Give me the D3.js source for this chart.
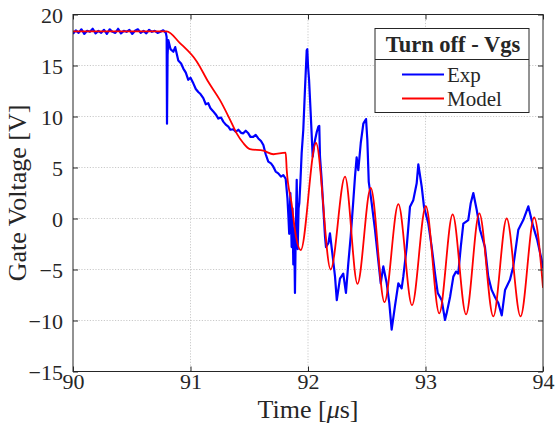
<!DOCTYPE html>
<html>
<head>
<meta charset="utf-8">
<script src="https://cdn.jsdelivr.net/npm/d3@7"></script>
<style>
  html, body { margin: 0; padding: 0; background: #fff; }
  svg { display: block; }
  text { font-family: "Liberation Serif", "Times New Roman", serif; fill: #262626; }
</style>
</head>
<body>
<svg id="chart" width="555" height="437"></svg>
<script>
// ---------------- data ----------------
const xTicks = [90, 91, 92, 93, 94];
const yTicks = [-15, -10, -5, 0, 5, 10, 15, 20];

const expTime = [
  90.000, 90.024, 90.048, 90.072, 90.096, 90.120, 90.144, 90.168, 90.192, 90.216,
  90.240, 90.264, 90.288, 90.312, 90.336, 90.360, 90.384, 90.408, 90.432, 90.456,
  90.480, 90.504, 90.528, 90.552, 90.576, 90.600, 90.624, 90.648, 90.672, 90.696,
  90.720, 90.744, 90.768, 90.790,
  90.797, 90.800, 90.805, 90.811, 90.830, 90.854, 90.870, 90.896, 90.920, 90.939,
  90.960, 90.981, 91.000, 91.024, 91.045, 91.066, 91.085, 91.109, 91.130, 91.151,
  91.170, 91.194, 91.215, 91.237, 91.260, 91.279, 91.300, 91.322, 91.340, 91.364,
  91.385, 91.407, 91.430, 91.449, 91.470, 91.492, 91.510, 91.534, 91.555, 91.577,
  91.600, 91.620, 91.640, 91.662, 91.685, 91.705, 91.725, 91.747, 91.770, 91.790,
  91.810, 91.825, 91.832, 91.840, 91.850, 91.861, 91.868, 91.875, 91.882, 91.889,
  91.895, 91.904, 91.912, 91.920, 91.926, 91.935, 91.946, 91.960, 91.974, 91.989,
  91.994, 92.000, 92.009, 92.023, 92.040, 92.050, 92.060, 92.075, 92.088, 92.096,
  92.102, 92.115, 92.125, 92.145, 92.153, 92.174, 92.187, 92.210, 92.230, 92.245,
  92.272, 92.300, 92.323, 92.343, 92.363, 92.386, 92.400, 92.414, 92.428, 92.449,
  92.471, 92.494, 92.505, 92.517, 92.542, 92.570, 92.598, 92.619, 92.641, 92.670,
  92.692, 92.712, 92.740, 92.769, 92.797, 92.811, 92.840, 92.868, 92.896, 92.925,
  92.939, 92.968, 92.987, 93.024, 93.053, 93.081, 93.104, 93.138, 93.166, 93.180,
  93.209, 93.237, 93.260, 93.279, 93.300, 93.322, 93.364, 93.385, 93.407, 93.436,
  93.464, 93.506, 93.534, 93.563, 93.591, 93.620, 93.649, 93.677, 93.719, 93.747,
  93.790, 93.832, 93.875, 93.917, 93.951, 93.989, 94.000
];
const expVgs = [
  18.1, 18.45, 18.2, 18.55, 18.1, 18.4, 18.3, 18.6, 18.15, 18.4,
  18.2, 18.5, 18.1, 18.55, 18.3, 18.2, 18.6, 18.15, 18.4, 18.3,
  18.5, 18.1, 18.4, 18.55, 18.2, 18.4, 18.15, 18.5, 18.3, 18.4,
  18.2, 18.3, 18.45, 18.2,
  17.8, 9.3, 16.0, 17.5, 16.6, 16.35, 16.8, 15.5, 15.2, 14.7,
  14.3, 13.6, 13.8, 13.25, 12.7, 12.4, 12.2, 11.8, 11.2, 11.3,
  10.8, 10.5, 10.2, 9.8, 9.9, 9.5, 9.2, 9.0, 8.7, 8.75,
  8.5, 8.7, 8.4, 8.35, 8.6, 8.35, 8.0, 8.0, 8.2, 7.85,
  7.6, 7.2, 6.3, 5.57, 5.4, 5.08, 4.6, 4.43, 4.1, 4.26,
  3.9, 2.0, 0.5, -1.5, 2.5, -2.8, 1.0, -4.5, -1.0, -7.3,
  -2.0, 3.8, -3.0, 1.0, 1.5, 3.5, 6.4, 8.7, 12.6, 16.5,
  16.6, 15.0, 13.6, 10.3, 6.06, 7.0, 7.7, 8.5, 9.0, 9.07,
  6.06, 4.0, 2.1, -1.8, -2.8, -2.4, -1.45, -3.7, -5.7, -8.0,
  -5.9, -5.4, -7.3, -4.4, -1.8, 1.8, 4.1, 6.0, 4.75, 7.4,
  9.3, 9.75, 7.7, 3.6, 1.5, -1.1, -4.1, -6.35, -4.7, -6.35,
  -8.3, -10.9, -8.6, -6.35, -6.85, -5.7, -2.8, 1.16, 1.8, 3.45,
  5.3, 3.1, 1.16, -0.5, -2.8, -5.4, -7.3, -8.0, -9.95, -9.3,
  -7.7, -5.7, -5.2, -5.4, -2.8, -0.5, -0.15, 1.5, 2.5, 0.83,
  -1.1, -2.8, -5.7, -7.0, -7.7, -8.3, -9.5, -7.0, -6.0, -4.7,
  -1.1, -0.15, 1.2, -0.8, -2.1, -4.1, -4.9
];

const modelTime = [
  90.000, 90.400, 90.797, 90.910, 91.053, 91.151, 91.251, 91.336, 91.393, 91.449,
  91.506, 91.620, 91.705, 91.810, 91.819, 91.860, 91.898, 91.938, 92.068, 92.193,
  92.315, 92.421, 92.534, 92.651, 92.769, 92.885, 93.003, 93.117, 93.231, 93.345,
  93.458, 93.577, 93.691, 93.809, 93.925, 94.000
];
const modelVgs = [
  18.35, 18.35, 18.35, 17.2, 15.4, 13.4, 11.6, 9.7, 8.35, 7.4,
  6.8, 6.65, 6.3, 6.45, 4.75, 1.5, -1.8, -3.1, 7.4, -5.0,
  4.1, -6.4, 3.0, -8.2, 1.4, -8.5, 1.2, -9.3, 0.4, -9.4,
  0.5, -9.6, 0.0, -9.6, 0.1, -6.8
];

const seriesNames = ["Exp", "Model"];
const seriesColors = ["#0000ff", "#ff0000"];
const legendTitle = "Turn off - Vgs";

// ---------------- layout ----------------
const svg = d3.select("#chart");
const L = 73, R = 543, T = 14.5, B = 371.5;

const x = d3.scaleLinear().domain([90, 94]).range([L, R]);
const y = d3.scaleLinear().domain([-15, 20]).range([B, T]);

svg.append("rect").attr("width", 555).attr("height", 437).attr("fill", "#fff");

// grid
const grid = svg.append("g").attr("stroke", "#bdbdbd").attr("stroke-width", 0.8)
  .attr("stroke-dasharray", "1.2,1.6");
grid.selectAll(".gx").data(xTicks.slice(1, -1)).enter().append("line")
  .attr("x1", d => x(d)).attr("x2", d => x(d)).attr("y1", T).attr("y2", B);
grid.selectAll(".gy").data(yTicks.slice(1, -1)).enter().append("line")
  .attr("y1", d => y(d)).attr("y2", d => y(d)).attr("x1", L).attr("x2", R);

// clip
svg.append("clipPath").attr("id", "clip").append("rect")
  .attr("x", L).attr("y", T).attr("width", R - L).attr("height", B - T);

const expData = expTime.map((t, i) => [t, expVgs[i]]);
const modelData = modelTime.map((t, i) => [t, modelVgs[i]]);

const lineLin = d3.line().x(d => x(d[0])).y(d => y(d[1])).curve(d3.curveLinear);
const lineSmooth = d3.line().x(d => x(d[0])).y(d => y(d[1])).curve(d3.curveMonotoneX);

const plot = svg.append("g").attr("clip-path", "url(#clip)");
plot.append("path").datum(expData).attr("d", lineLin)
  .attr("fill", "none").attr("stroke", seriesColors[0]).attr("stroke-width", 2.2)
  .attr("stroke-linejoin", "round");
plot.append("path").datum(modelData).attr("d", lineSmooth)
  .attr("fill", "none").attr("stroke", seriesColors[1]).attr("stroke-width", 1.8)
  .attr("stroke-linejoin", "round");

// axes (MATLAB style: ticks inward, box on)
const tickLen = 5;
const axisColor = "#262626";
const xAxisB = d3.axisBottom(x).tickValues(xTicks).tickSizeInner(-tickLen).tickSizeOuter(0).tickFormat(d3.format("d"));
const yAxisL = d3.axisLeft(y).tickValues(yTicks).tickSizeInner(-tickLen).tickSizeOuter(0).tickFormat(d3.format("d"));
const xAxisT = d3.axisTop(x).tickValues(xTicks).tickSizeInner(-tickLen).tickSizeOuter(0).tickFormat("");
const yAxisR = d3.axisRight(y).tickValues(yTicks).tickSizeInner(-tickLen).tickSizeOuter(0).tickFormat("");

function styleAxis(g) {
  g.select(".domain").remove();
  g.selectAll(".tick line").attr("stroke", axisColor).attr("stroke-width", 1);
  g.selectAll(".tick text").attr("fill", axisColor)
    .style("font-family", '"Liberation Serif", serif').style("font-size", "22px");
}
svg.append("g").attr("transform", `translate(0,${B})`).call(xAxisB).call(styleAxis)
  .selectAll(".tick text").attr("y", 17).attr("dy", null);
svg.append("g").attr("transform", `translate(${L},0)`).call(yAxisL).call(styleAxis)
  .selectAll(".tick text").attr("x", -10).attr("dy", "0.38em");
svg.append("g").attr("transform", `translate(0,${T})`).call(xAxisT).call(styleAxis);
svg.append("g").attr("transform", `translate(${R},0)`).call(yAxisR).call(styleAxis);

// box
svg.append("rect").attr("x", L).attr("y", T).attr("width", R - L).attr("height", B - T)
  .attr("fill", "none").attr("stroke", axisColor).attr("stroke-width", 1);

// axis labels
const xl = svg.append("text").attr("x", (L + R) / 2).attr("y", 418).attr("text-anchor", "middle")
  .style("font-size", "26px");
xl.append("tspan").text("Time [");
xl.append("tspan").style("font-style", "italic").text("\u03BC");
xl.append("tspan").text("s]");

svg.append("text").attr("transform", `translate(26,${(T + B) / 2}) rotate(-90)`)
  .attr("text-anchor", "middle").style("font-size", "26px").text("Gate Voltage [V]");

// legend
const lg = svg.append("g");
const lx0 = 375, lx1 = 529, ly0 = 28.5, ly1 = 112.5, lsep = 59.5;
lg.append("rect").attr("x", lx0).attr("y", ly0).attr("width", lx1 - lx0).attr("height", ly1 - ly0)
  .attr("fill", "#fff").attr("stroke", "#262626").attr("stroke-width", 1);
lg.append("line").attr("x1", lx0).attr("x2", lx1).attr("y1", lsep).attr("y2", lsep)
  .attr("stroke", "#262626").attr("stroke-width", 1);
lg.append("text").attr("x", (lx0 + lx1) / 2 + 1).attr("y", 52).attr("text-anchor", "middle")
  .style("font-size", "22.5px").style("font-weight", "bold").attr("fill", "#000").text(legendTitle);
const legY = [74.5, 98.5];
seriesNames.forEach((n, i) => {
  lg.append("line").attr("x1", 402).attr("x2", 444).attr("y1", legY[i]).attr("y2", legY[i])
    .attr("stroke", seriesColors[i]).attr("stroke-width", 1.8);
  lg.append("text").attr("x", 447).attr("y", legY[i] + 7).style("font-size", "21px")
    .attr("fill", "#000").text(n);
});
</script>
</body>
</html>
